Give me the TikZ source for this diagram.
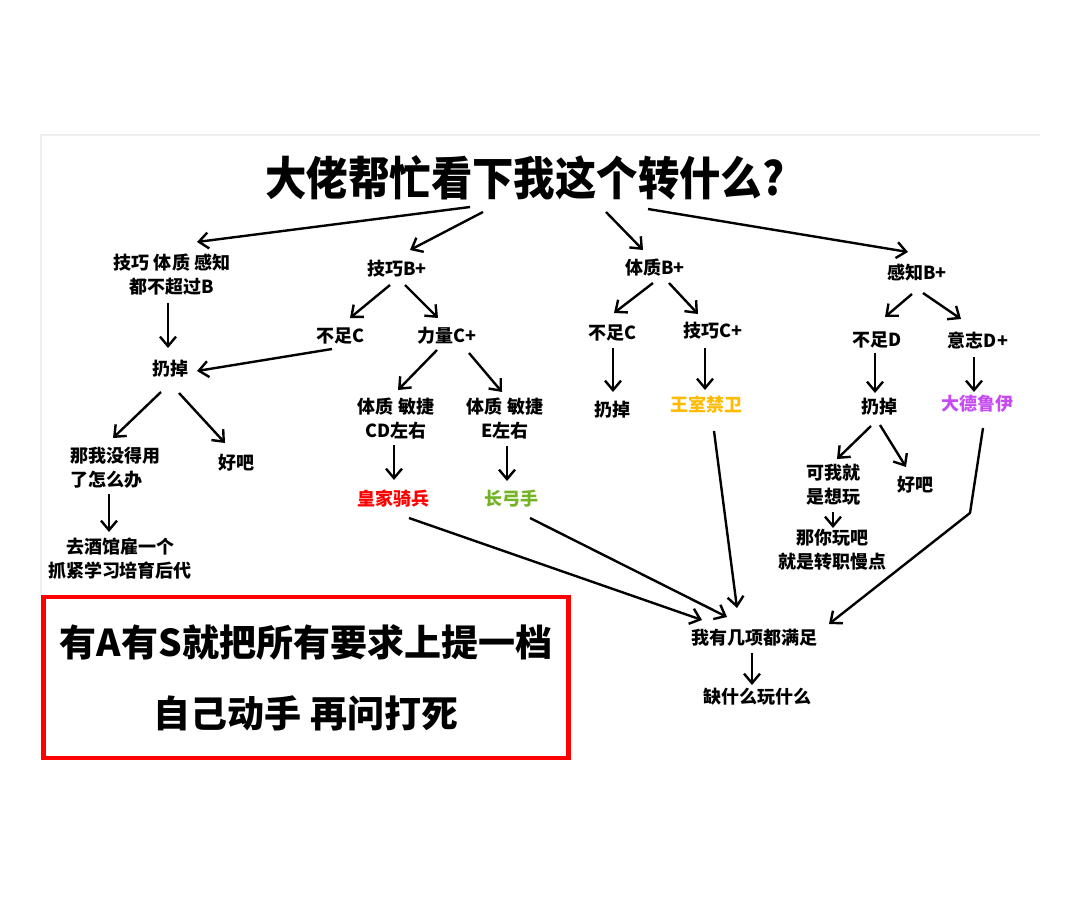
\documentclass[tikz,border=0pt]{standalone}
\usepackage{fontspec}
\setmainfont{Noto Sans CJK SC}
\usepackage{graphicx}
\usetikzlibrary{arrows.meta}
\definecolor{knightred}{HTML}{FF0000}
\definecolor{archergreen}{HTML}{74B324}
\definecolor{guardgold}{HTML}{FFBB00}
\definecolor{druidpurple}{HTML}{C64BF2}
\definecolor{tipred}{HTML}{FF0000}
\definecolor{framegray}{HTML}{EFEFEF}
\tikzset{
  pick/.style={font=\bfseries\fontsize{18}{24}\selectfont, inner sep=0pt, align=center},
  pickleft/.style={pick, align=left},
  bigq/.style={font=\bfseries\fontsize{46}{50}\selectfont, inner sep=0pt},
  tipbox/.style={draw=tipred, line width=4.5pt, minimum width=525pt, minimum height=161pt,
                 inner sep=0pt, align=center, font=\bfseries\fontsize{37}{71}\selectfont},
  flow/.style={-{Straight Barb[length=9.5pt,width=16pt]}, line width=2.4pt},
}

\begin{document}
\begin{tikzpicture}[x=1pt, y=-1pt]
    \useasboundingbox (0,0) rectangle (1080,899);
    \draw[framegray, line width=1.5pt] (41,595) -- (41,135) -- (1040,135);
    % question and the four stats
    \node[bigq] (ask) at (525,178) {\scalebox{0.9}[1]{大佬帮忙看下我这个转什么?}};
    \node[pick] (allB) at (172,275) {技巧 体质 感知\\都不超过B};
    \node[pick] (jqB) at (397,269) {技巧B+};
    \node[pick] (tzB) at (655,268) {体质B+};
    \node[pick] (gzB) at (917,273) {感知B+};
    % skill branch
    \node[pick] (bzC1) at (341,336) {不足C};
    \node[pick] (llC) at (447,336) {力量C+};
    \node[pick] (drop1) at (170,369) {扔掉};
    \node[pickleft] (nowhat) at (115,468) {那我没得用\\了怎么办};
    \node[pick] (fine1) at (236,463) {好吧};
    \node[pick] (tavern) at (120,559) {去酒馆雇一个\\抓紧学习培育后代};
    \node[pick] (tzCD) at (396,419) {体质 敏捷\\CD左右};
    \node[pick] (tzE) at (505,419) {体质 敏捷\\E左右};
    \node[pick, text=knightred] (knight) at (393,499) {皇家骑兵};
    \node[pick, text=archergreen] (archer) at (511,499) {长弓手};
    % constitution branch
    \node[pick] (bzC2) at (612,333) {不足C};
    \node[pick] (jqC) at (713,331) {技巧C+};
    \node[pick] (drop2) at (612,410) {扔掉};
    \node[pick, text=guardgold] (guard) at (706,405) {王室禁卫};
    % perception branch
    \node[pick] (bzD) at (877,340) {不足D};
    \node[pick] (yzD) at (978,340) {意志D+};
    \node[pick] (drop3) at (879,407) {扔掉};
    \node[pick, text=druidpurple] (druid) at (977,404) {大德鲁伊};
    \node[pick] (wantplay) at (833,485) {可我就\\是想玩};
    \node[pick] (fine2) at (915,485) {好吧};
    \node[pick] (slowjob) at (832,550) {那你玩吧\\就是转职慢点};
    % end
    \node[pick] (meets) at (754,638) {我有几项都满足};
    \node[pick] (lacks) at (757,697) {缺什么玩什么};
    \node[tipbox] (rule) at (306,677.5) {有A有S就把所有要求上提一档\\自己动手\ 再问打死};
    \coordinate (bend) at (970,513);

    \draw[flow] ([shift={(-55,29)}]ask.center) -- ([shift={(25,-33)}]allB.center);
    \draw[flow] ([shift={(-42,34)}]ask.center) -- ([shift={(13,-19)}]jqB.center);
    \draw[flow] ([shift={(81,34)}]ask.center) -- ([shift={(-12,-18)}]tzB.center);
    \draw[flow] ([shift={(123,31)}]ask.center) -- ([shift={(-9,-21)}]gzB.center);

    \draw[flow] ([shift={(-4,28)}]allB.center) -- ([shift={(-2,-21)}]drop1.center);
    \draw[flow] ([shift={(-9,13)}]bzC1.center) -- ([shift={(27,2)}]drop1.center);
    \draw[flow] ([shift={(-7,16)}]jqB.center) -- ([shift={(9,-18)}]bzC1.center);
    \draw[flow] ([shift={(8,16)}]jqB.center) -- ([shift={(-9,-18)}]llC.center);
    \draw[flow] ([shift={(-10,14)}]llC.center) -- ([shift={(2,-29)}]tzCD.center);
    \draw[flow] ([shift={(22,17)}]llC.center) -- ([shift={(-3,-27)}]tzE.center);
    \draw[flow] ([shift={(-2,26)}]tzCD.center) -- ([shift={(1,-19)}]knight.center);
    \draw[flow] ([shift={(2,27)}]tzE.center) -- ([shift={(-4,-18)}]archer.center);
    \draw[flow] ([shift={(-9,23)}]drop1.center) -- ([shift={(-2,-30)}]nowhat.center);
    \draw[flow] ([shift={(9,24)}]drop1.center) -- ([shift={(-11,-20)}]fine1.center);
    \draw[flow] ([shift={(-6,26)}]nowhat.center) -- ([shift={(-11,-27)}]tavern.center);

    \draw[flow] ([shift={(-2,15)}]tzB.center) -- ([shift={(2,-20)}]bzC2.center);
    \draw[flow] ([shift={(14,15)}]tzB.center) -- ([shift={(-15,-17)}]jqC.center);
    \draw[flow] ([shift={(1,15)}]bzC2.center) -- ([shift={(1,-18)}]drop2.center);
    \draw[flow] ([shift={(-8,17)}]jqC.center) -- ([shift={(-1,-15)}]guard.center);

    \draw[flow] ([shift={(-5,21)}]gzB.center) -- ([shift={(8,-23)}]bzD.center);
    \draw[flow] ([shift={(6,20)}]gzB.center) -- ([shift={(-17,-21)}]yzD.center);
    \draw[flow] ([shift={(-2,13)}]bzD.center) -- ([shift={(-4,-14)}]drop3.center);
    \draw[flow] ([shift={(-4,17)}]yzD.center) -- ([shift={(-3,-12)}]druid.center);
    \draw[flow] ([shift={(-8,19)}]drop3.center) -- ([shift={(4,-26)}]wantplay.center);
    \draw[flow] ([shift={(1,18)}]drop3.center) -- ([shift={(-9,-18)}]fine2.center);
    \draw[flow] ([shift={(0,27)}]wantplay.center) -- ([shift={(1,-22)}]slowjob.center);

    \draw[flow] ([shift={(16,19)}]knight.center) -- ([shift={(-52,-18)}]meets.center);
    \draw[flow] ([shift={(19,19)}]archer.center) -- ([shift={(-27,-21)}]meets.center);
    \draw[flow] ([shift={(8,26)}]guard.center) -- ([shift={(-17,-30)}]meets.center);
    \draw[flow] ([shift={(6,24)}]druid.center) -- (bend) -- ([shift={(75,-14)}]meets.center);
    \draw[flow] ([shift={(-2,15)}]meets.center) -- ([shift={(-5,-12)}]lacks.center);
\end{tikzpicture}
\end{document}
